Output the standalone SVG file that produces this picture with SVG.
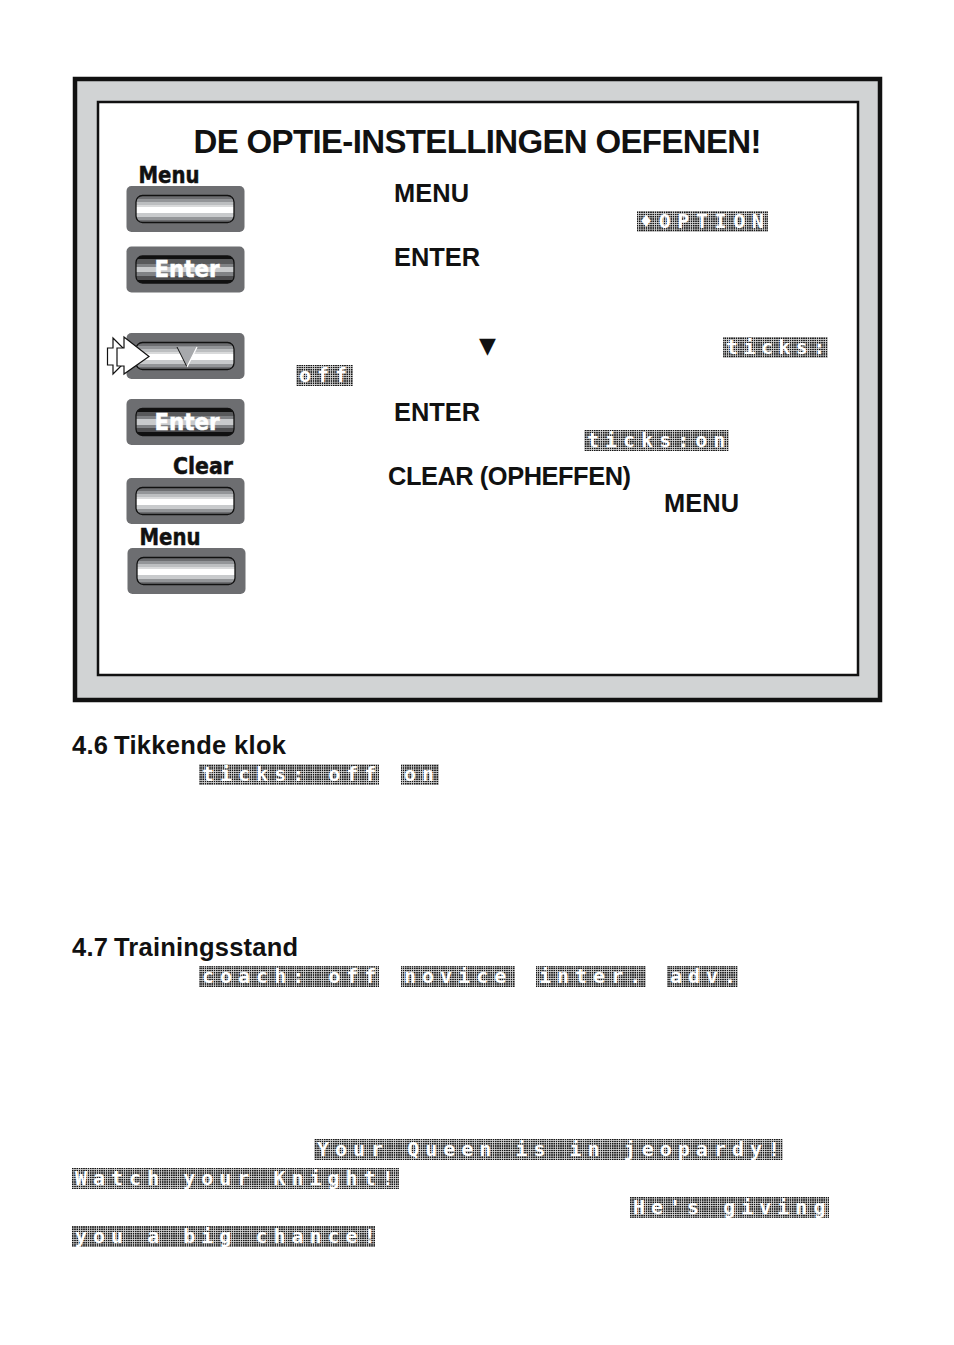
<svg xmlns="http://www.w3.org/2000/svg" width="954" height="1345" viewBox="0 0 954 1345">
<style>
text{font-family:"Liberation Sans",Arial,sans-serif;fill:#111}
.b{font-weight:700;font-size:25.4px}
.h{font-weight:700;font-size:25.5px}
.t{font-weight:700;font-size:33px}
.k{font-family:"DejaVu Sans",sans-serif;font-weight:700;font-size:23px;stroke:#111;stroke-width:.5}
.e{fill:#fff;stroke:#fff}
.o{fill:#6d6e71}
.in{stroke:#111;stroke-width:1.3}
.dm{fill:url(#dots)}
.m{font-family:"DejaVu Sans Mono",monospace;font-weight:700;font-size:20px;fill:#fff;letter-spacing:6px}
</style>
<defs>
<pattern id="dots" width="2.25" height="2.25" patternUnits="userSpaceOnUse">
<rect width="2.25" height="2.25" fill="#111"/>
<rect x="1.5" width="0.75" height="2.25" fill="#d8d8d8"/>
<rect y="1.5" width="2.25" height="0.75" fill="#d8d8d8"/>
</pattern>
<linearGradient id="light" x1="0" y1="0" x2="0" y2="1">
<stop offset="0" stop-color="#6d6e71"/><stop offset=".12" stop-color="#6d6e71"/>
<stop offset=".12" stop-color="#939598"/><stop offset=".24" stop-color="#939598"/>
<stop offset=".24" stop-color="#bcbec0"/><stop offset=".36" stop-color="#bcbec0"/>
<stop offset=".36" stop-color="#d9dadb"/><stop offset=".42" stop-color="#d9dadb"/>
<stop offset=".42" stop-color="#fff"/><stop offset=".66" stop-color="#fff"/>
<stop offset=".66" stop-color="#c8cacc"/><stop offset=".78" stop-color="#c8cacc"/>
<stop offset=".78" stop-color="#939598"/><stop offset=".9" stop-color="#939598"/>
<stop offset=".9" stop-color="#6d6e71"/><stop offset="1" stop-color="#6d6e71"/>
</linearGradient>
<linearGradient id="dark" x1="0" y1="0" x2="0" y2="1">
<stop offset="0" stop-color="#111"/><stop offset=".12" stop-color="#111"/>
<stop offset=".12" stop-color="#58595b"/><stop offset=".28" stop-color="#58595b"/>
<stop offset=".28" stop-color="#808285"/><stop offset=".4" stop-color="#808285"/>
<stop offset=".4" stop-color="#c8cacc"/><stop offset=".6" stop-color="#c8cacc"/>
<stop offset=".6" stop-color="#808285"/><stop offset=".74" stop-color="#808285"/>
<stop offset=".74" stop-color="#4d4d4f"/><stop offset=".88" stop-color="#4d4d4f"/>
<stop offset=".88" stop-color="#111"/><stop offset="1" stop-color="#111"/>
</linearGradient>
<g id="btnLight"><rect class="o" width="118" height="46" rx="5"/><rect class="in" x="9.5" y="9.5" width="98" height="27" rx="6.5" fill="url(#light)"/></g>
<g id="btnDark"><rect class="o" width="118" height="46" rx="5"/><rect class="in" x="9.5" y="9.5" width="98" height="27" rx="6.5" fill="url(#dark)"/></g>
</defs>
<rect width="954" height="1345" fill="#fff"/>
<g id="frame">
<rect x="75" y="79" width="805" height="621" fill="#d1d3d4" stroke="#111" stroke-width="4.5"/>
<rect x="98" y="102" width="760" height="573" fill="#fff" stroke="#111" stroke-width="2.5"/>
</g>
<text id="title" class="t" x="193.500" y="153" textLength="568">DE OPTIE-INSTELLINGEN OEFENEN!</text>

<g id="btn-menu-1"><use href="#btnLight" x="126.500" y="186"/><text class="k" x="138.500" y="183" textLength="61" lengthAdjust="spacingAndGlyphs">Menu</text></g>
<g id="btn-enter-1"><use href="#btnDark" x="126.500" y="246.500"/><text class="k e" x="154.500" y="277" textLength="65" lengthAdjust="spacingAndGlyphs">Enter</text></g>
<g id="btn-down"><use href="#btnLight" x="126.500" y="333"/>
<polygon points="177,347 197,347 187,367" fill="#a7a9ac"/><polyline points="177,347 187,367" fill="none" stroke="#111" stroke-width="1"/><polyline points="197,347 187,367" fill="none" stroke="#fff" stroke-width="1.200"/>
<polygon points="107.500,348 113,348 113,338 131,356 113,374 113,365 107.500,365" fill="#fff" stroke="#111" stroke-width="1.200"/>
<polygon points="117,348 124,348 124,337 149,356.500 124,374 124,366 117,366" fill="#fff" stroke="#111" stroke-width="1.200"/></g>
<g id="btn-enter-2"><use href="#btnDark" x="126.500" y="399"/><text class="k e" x="154.500" y="430" textLength="65" lengthAdjust="spacingAndGlyphs">Enter</text></g>
<g id="btn-clear"><use href="#btnLight" x="126.500" y="478"/><text class="k" x="173" y="474" textLength="60" lengthAdjust="spacingAndGlyphs">Clear</text></g>
<g id="btn-menu-2"><use href="#btnLight" x="127.500" y="548"/><text class="k" x="139.500" y="545" textLength="61" lengthAdjust="spacingAndGlyphs">Menu</text></g>

<g id="instructions">
<text class="b" x="394" y="202" textLength="75">MENU</text>
<text class="b" x="394" y="266" textLength="86">ENTER</text>
<text class="b" x="479" y="353" style="font-family:'DejaVu Sans',sans-serif;font-size:22px">▼</text>
<text class="b" x="394" y="421" textLength="86">ENTER</text>
<text class="b" x="388" y="485" textLength="243">CLEAR (OPHEFFEN)</text>
<text class="b" x="664" y="512" textLength="75">MENU</text>
<text class="h" x="72" y="754" textLength="36">4.6</text><text class="h" x="114" y="754" textLength="172">Tikkende klok</text>
<text class="h" x="72" y="956" textLength="36">4.7</text><text class="h" x="114" y="956" textLength="184">Trainingsstand</text>
</g>

<g id="lcd-labels">
<rect class="dm" x="637" y="211" width="131" height="21"/><text class="m" x="640" y="228" style="letter-spacing:6.6px">♦OPTION</text>
<rect class="dm" x="723" y="337" width="105" height="21"/><text class="m" x="726" y="354" style="letter-spacing:5.4px">ticks:</text>
<rect class="dm" x="296" y="365" width="57" height="21"/><text class="m" x="299" y="382">off</text>
<rect class="dm" x="584" y="430" width="145" height="21"/><text class="m" x="587" y="447">ticks:on</text>
<rect class="dm" x="199" y="764" width="180" height="21"/><text class="m" x="202" y="781">ticks: off</text>
<rect class="dm" x="401" y="764" width="38" height="21"/><text class="m" x="404" y="781">on</text>
<rect class="dm" x="199" y="966" width="180" height="21"/><text class="m" x="202" y="983">coach: off</text>
<rect class="dm" x="401" y="966" width="114" height="21"/><text class="m" x="404" y="983">novice</text>
<rect class="dm" x="536" y="966" width="110" height="21"/><text class="m" x="539" y="983">inter.</text>
<rect class="dm" x="667" y="966" width="71" height="21"/><text class="m" x="670" y="983">adv.</text>
<rect class="dm" x="314" y="1139" width="469" height="21"/><text class="m" x="317" y="1156">Your Queen is in jeopardy!</text>
<rect class="dm" x="72" y="1168" width="327" height="21"/><text class="m" x="75" y="1185">Watch your Knight!</text>
<rect class="dm" x="630" y="1197" width="199" height="21"/><text class="m" x="633" y="1214">He's giving</text>
<rect class="dm" x="72" y="1226" width="303" height="21"/><text class="m" x="75" y="1243">you a big chance!</text>
</g>
</svg>
